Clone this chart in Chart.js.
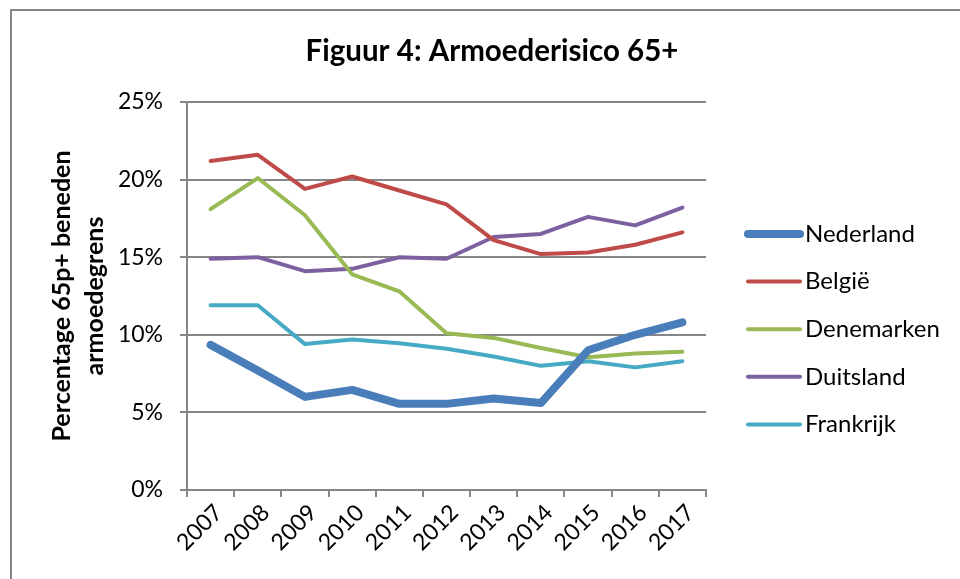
<!DOCTYPE html>
<html>
<head>
<meta charset="utf-8">
<script src="https://cdn.jsdelivr.net/npm/chart.js@4"></script>
<style>
  html, body { margin: 0; padding: 0; background: #fff; }
  #wrap { width: 960px; height: 579px; position: relative; }
</style>
</head>
<body>
<div id="wrap"><canvas id="myChart" width="960" height="579"></canvas></div>
<script>
const years = ['2007', '2008', '2009', '2010', '2011', '2012', '2013', '2014', '2015', '2016', '2017'];
const countries = ['Nederland', 'België', 'Denemarken', 'Duitsland', 'Frankrijk'];
const nederland = [9.35, 7.7, 6.0, 6.45, 5.55, 5.55, 5.9, 5.6, 9.0, 10.0, 10.8];
const belgie = [21.2, 21.6, 19.4, 20.2, 19.3, 18.4, 16.1, 15.2, 15.3, 15.8, 16.6];
const denemarken = [18.1, 20.1, 17.7, 13.9, 12.8, 10.1, 9.8, 9.15, 8.55, 8.8, 8.9];
const duitsland = [14.9, 15.0, 14.1, 14.25, 15.0, 14.9, 16.3, 16.5, 17.6, 17.05, 18.2];
const frankrijk = [11.9, 11.9, 9.4, 9.7, 9.45, 9.1, 8.6, 8.0, 8.3, 7.9, 8.3];
const yTicks = [0, 5, 10, 15, 20, 25];

const colors = ['#4A7EBB', '#BE4B48', '#98B954', '#7D60A0', '#46AAC5'];
const widths = [8, 4, 4, 4, 4];
const series = [nederland, belgie, denemarken, duitsland, frankrijk];

const FONT = 'Lato, "Open Sans", sans-serif';
const GRAY = '#868686';

// frame, title, axis title and legend
const extras = {
    id: 'extras',
    beforeDraw(chart) {
        const c = chart.ctx;
        c.save();
        c.strokeStyle = GRAY;
        c.lineWidth = 2;
        c.beginPath();
        c.moveTo(11, 579);
        c.lineTo(11, 10);
        c.lineTo(960, 10);
        c.stroke();
        c.restore();
    },
    afterDraw(chart) {
        const c = chart.ctx;
        c.save();
        c.fillStyle = '#000';
        c.font = 'bold 29.5px ' + FONT;
        c.textAlign = 'center';
        c.textBaseline = 'middle';
        c.fillText('Figuur 4: Armoederisico 65+', 492, 51);

        c.save();
        c.translate(62, 296);
        c.rotate(-Math.PI / 2);
        c.font = 'bold 25px ' + FONT;
        c.fillText('Percentage 65p+ beneden', 0, 0);
        c.fillText('armoedegrens', 0, 33);
        c.restore();

        c.font = '24px ' + FONT;
        c.textAlign = 'left';
        chart.data.datasets.forEach((ds, i) => {
            const y = 234 + i * 47.6;
            c.strokeStyle = ds.borderColor;
            c.lineWidth = ds.borderWidth;
            c.lineCap = 'round';
            c.beginPath();
            c.moveTo(748, y);
            c.lineTo(800, y);
            c.stroke();
            c.fillStyle = '#000';
            c.fillText(ds.label, 805, y);
        });
        c.restore();
    }
};

const ctx = document.getElementById('myChart').getContext('2d');
const myChart = new Chart(ctx, {
    type: 'line',
    data: {
        labels: years,
        datasets: countries.map((name, i) => ({
            label: name,
            data: series[i],
            borderColor: colors[i],
            backgroundColor: colors[i],
            borderWidth: widths[i],
            borderCapStyle: 'round',
            borderJoinStyle: 'round',
            pointRadius: 0,
            tension: 0,
            fill: false
        }))
    },
    options: {
        responsive: false,
        animation: false,
        layout: { padding: { top: 102, right: 254, left: 0, bottom: 0 } },
        plugins: {
            legend: { display: false },
            title: { display: false },
            tooltip: { enabled: false }
        },
        scales: {
            x: {
                offset: true,
                grid: { offset: true, drawOnChartArea: false, drawTicks: true, tickLength: 7, color: GRAY, lineWidth: 2 },
                border: { color: GRAY, width: 2 },
                ticks: { maxRotation: 45, minRotation: 45, padding: 2, labelOffset: 8, color: '#000', font: { family: FONT, size: 23 } },
                afterFit: s => { s.height = 89; }
            },
            y: {
                min: 0,
                max: 25,
                afterBuildTicks: s => { s.ticks = yTicks.map(v => ({ value: v })); },
                grid: { color: GRAY, lineWidth: 2, tickLength: 7 },
                border: { color: GRAY, width: 2 },
                ticks: { padding: 17, color: '#000', font: { family: FONT, size: 23 }, callback: v => v + '%' },
                afterFit: s => { s.width = 187; }
            }
        }
    },
    plugins: [extras]
});
</script>
</body>
</html>
